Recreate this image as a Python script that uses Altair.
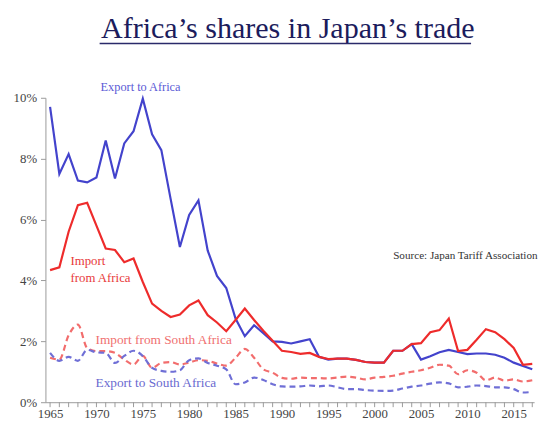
import altair as alt
import pandas as pd

years = list(range(1965, 2018))
label_years = list(range(1965, 2020, 5))

export_africa = [9.7, 7.5, 8.15, 7.28, 7.22, 7.38, 8.6, 7.35, 8.5, 8.9,
                 9.97, 8.8, 8.28, 6.68, 5.1, 6.15, 6.63, 4.98, 4.15, 3.75,
                 2.75, 2.17, 2.53, 2.27, 2.0, 1.98, 1.93, 2.0, 2.07, 1.49,
                 1.4, 1.43, 1.43, 1.39, 1.32, 1.3, 1.3, 1.69, 1.69, 1.91,
                 1.4, 1.51, 1.64, 1.72, 1.65, 1.58, 1.6, 1.6, 1.56, 1.46,
                 1.3, 1.19, 1.08]

import_africa = [4.34, 4.43, 5.6, 6.47, 6.55, 5.8, 5.05, 5.0, 4.6, 4.72,
                 3.95, 3.24, 3.0, 2.8, 2.88, 3.18, 3.34, 2.86, 2.62, 2.33,
                 2.7, 3.08, 2.7, 2.35, 2.02, 1.69, 1.65, 1.59, 1.62, 1.49,
                 1.42, 1.43, 1.43, 1.39, 1.32, 1.3, 1.3, 1.69, 1.69, 1.91,
                 1.94, 2.3, 2.37, 2.75, 1.68, 1.72, 2.05, 2.4, 2.3, 2.07,
                 1.78, 1.23, 1.26]

import_south_africa = [1.46, 1.4, 2.2, 2.55, 1.78, 1.68, 1.68, 1.62, 1.4, 1.24,
                       1.52, 1.13, 1.29, 1.32, 1.24, 1.3, 1.38, 1.36, 1.27, 1.2,
                       1.46, 1.75, 1.46, 1.08, 0.97, 0.8, 0.77, 0.81, 0.79, 0.79,
                       0.78, 0.81, 0.84, 0.81, 0.75, 0.81, 0.83, 0.87, 0.94, 1.0,
                       1.05, 1.13, 1.23, 1.2, 0.92, 1.05, 0.97, 0.72, 0.81, 0.71,
                       0.75, 0.68, 0.72]

export_south_africa = [1.62, 1.36, 1.49, 1.36, 1.72, 1.64, 1.62, 1.29, 1.52, 1.69,
                       1.52, 1.13, 1.03, 1.0, 1.05, 1.38, 1.44, 1.29, 1.2, 1.08,
                       0.59, 0.65, 0.81, 0.73, 0.59, 0.52, 0.51, 0.52, 0.55, 0.52,
                       0.55, 0.49, 0.43, 0.43, 0.4, 0.38, 0.37, 0.38, 0.45, 0.51,
                       0.55, 0.61, 0.65, 0.62, 0.49, 0.51, 0.55, 0.53, 0.49, 0.49,
                       0.43, 0.32, 0.34]

series_names = ["Export to Africa", "Import from Africa",
                "Import from South Africa", "Export to South Africa"]
series_colors = ["#4343cc", "#ee2b2b", "#f26d6d", "#6f6fd6"]

y_ticks = [0, 2, 4, 6, 8, 10]

# annotation labels (text, year, value, colour, size)
ann_text = ["Export to Africa", "Import", "from Africa",
            "Import from South Africa", "Export to South Africa",
            "Source: Japan Tariff Association"]
ann_year = [1970.45, 1967.2, 1967.2, 1969.9, 1969.9, 2002.0]
ann_value = [10.23, 4.5, 3.95, 1.91, 0.49, 4.72]
ann_color = ["#5a5ad6", "#e83a3a", "#e83a3a", "#f07070", "#6a6ad0", "#333333"]
ann_size = [12.5, 13, 13, 13.5, 13.5, 11.3]

title_text = "Africa\u2019s shares in Japan\u2019s trade"

solid_df = pd.concat([
    pd.DataFrame({"year": years, "value": export_africa, "series": series_names[0]}),
    pd.DataFrame({"year": years, "value": import_africa, "series": series_names[1]}),
])
dashed_df = pd.concat([
    pd.DataFrame({"year": years, "value": import_south_africa, "series": series_names[2]}),
    pd.DataFrame({"year": years, "value": export_south_africa, "series": series_names[3]}),
])
ann_df = pd.DataFrame({"text": ann_text, "year": ann_year, "value": ann_value,
                       "color": ann_color, "size": ann_size})
tick_df = pd.DataFrame({"year": years})

FONT = "Liberation Serif"
x_scale = alt.Scale(domain=[1964.5, 2017.2], nice=False, zero=False)

x_enc = alt.X("year:Q", scale=x_scale,
              axis=alt.Axis(values=label_years, format="d", title=None, grid=False,
                            ticks=False, labelOverlap=False, labelFlush=False,
                            labelPadding=6, labelFont=FONT, labelFontSize=13,
                            labelColor="#444444", domainColor="#9a9a9a"))
y_enc = alt.Y("value:Q",
              scale=alt.Scale(domain=[0, 10], nice=False),
              axis=alt.Axis(values=y_ticks, title=None, grid=False,
                            labelExpr="datum.value + '%'", tickSize=5,
                            labelPadding=4, labelFont=FONT, labelFontSize=13,
                            labelColor="#444444", domainColor="#9a9a9a",
                            tickColor="#9a9a9a"))
color_enc = alt.Color("series:N", scale=alt.Scale(domain=series_names, range=series_colors),
                      legend=None)

solid = alt.Chart(solid_df).mark_line(strokeWidth=2.2).encode(
    x=x_enc, y=y_enc, color=color_enc, detail="series:N")

dashed = alt.Chart(dashed_df).mark_line(strokeWidth=2.2, strokeDash=[6, 4],
                                        interpolate="monotone").encode(
    x=x_enc, y=y_enc, color=color_enc, detail="series:N")

year_ticks = alt.Chart(tick_df).mark_rule(color="#9a9a9a", strokeWidth=1).encode(
    x=alt.X("year:Q", scale=x_scale), y=alt.value(309), y2=alt.value(314))

labels = alt.Chart(ann_df).mark_text(font=FONT, align="left", baseline="alphabetic").encode(
    x="year:Q", y="value:Q", text="text:N",
    color=alt.Color("color:N", scale=None),
    size=alt.Size("size:Q", scale=None))

title = alt.Chart(pd.DataFrame({"t": [title_text]})).mark_text(
    font=FONT, fontSize=30.5, color="#1c1c5c", align="center", baseline="alphabetic").encode(
    text="t:N", x=alt.value(246), y=alt.value(-61))

underline = alt.Chart(pd.DataFrame({"t": [title_text]})).mark_rule(
    color="#2a2a6a", strokeWidth=1.5).encode(
    x=alt.value(55), x2=alt.value(432), y=alt.value(-55))

chart = alt.layer(solid, dashed, year_ticks, labels, title, underline).properties(
    width=496, height=309,
    background="white",
    autosize=alt.AutoSizeParams(type="none"),
    padding={"left": 38, "top": 88, "right": 8, "bottom": 20},
).configure_view(stroke=None)

chart.save("out.html", embed_options={"renderer": "svg", "actions": False})
